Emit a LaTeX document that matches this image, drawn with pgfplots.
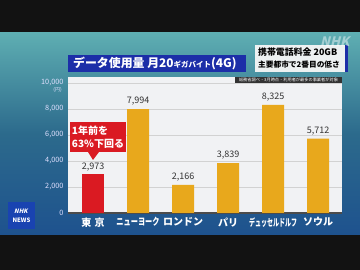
\documentclass[border=0pt]{standalone}
\usepackage{fontspec}
\setmainfont{Noto Sans CJK JP}
\usepackage{graphicx}
\usepackage{pgfplots}
\pgfplotsset{compat=1.18}
\definecolor{barO}{HTML}{E8A81C}
\definecolor{barR}{HTML}{DA1A22}
\definecolor{nhkblue}{HTML}{1C2EA8}
\definecolor{bgtop}{HTML}{5EAEB2}
\definecolor{bgmid}{HTML}{2C6A8C}
\definecolor{bgbot}{HTML}{1E528E}
\definecolor{panel}{HTML}{F1F2F4}
\begin{document}
\begin{tikzpicture}[x=1pt,y=1pt]
\useasboundingbox (0,0) rectangle (360,270);
\fill[black!93] (0,0) rectangle (360,270);
\shade[top color=bgtop, bottom color=bgbot, middle color=bgmid] (0,35) rectangle (360,237);
\begin{axis}[
  at={(68pt,57pt)}, anchor=south west,
  width=274pt, height=136pt, scale only axis,
  xmin=-0.556, xmax=5.533, ymin=0, ymax=10460,
  ytick={0,2000,...,10000},
  scaled y ticks=false,
  xtick={0,...,5},
  xticklabels={\textbf{東\,\,京},\scalebox{0.72}[1]{\textbf{ニューヨーク}},\textbf{ロンドン},\textbf{パリ},\scalebox{0.6}[1]{\textbf{デュッセルドルフ}},\textbf{ソウル}},
  x tick label style={text=white, font=\fontsize{10}{10}\selectfont, yshift=-1pt},
  y tick label style={text=white!88!blue, font=\fontsize{7.3}{7.3}\selectfont, xshift=-1pt},
  /pgf/number format/1000 sep={,},
  /pgf/number format/assume math mode=true,
  major tick length=0pt,
  ymajorgrids, grid style={gray!35, line width=0.5pt},
  axis line style={draw=none},
  axis background/.style={fill=panel},
  extra y ticks={0}, extra y tick labels={},
  extra y tick style={grid style={black!70, line width=1.1pt}},
  ybar, bar width=22pt,
  nodes near coords,
  every node near coord/.append style={font=\fontsize{9}{9}\selectfont, text=black!80, yshift=0pt},
]
\addplot[fill=barR, draw=none, bar shift=0pt] coordinates {(0,2973)};
\addplot[fill=barO, draw=none, bar shift=0pt] coordinates {(1,7994) (2,2166) (3,3839) (4,8325) (5,5712)};
\end{axis}
% yen unit
\node[anchor=east, text=white!88!blue, font=\fontsize{5}{5}\selectfont, inner sep=0pt] at (62,180) {(円)};
% note bar
\fill[black!80] (235,187) rectangle (342,193);
\node[text=white, font=\fontsize{4.2}{4.2}\selectfont, inner sep=0pt] at (288.5,190) {総務省調べ・3月時点・利用者が最多の事業者が対象};
% title box
\fill[nhkblue] (68,198) rectangle (246,215);
\node[anchor=west, text=white, inner sep=0pt, font=\bfseries\fontsize{11.9}{12}\selectfont] at (73,206.5) {データ使用量 月20{\fontsize{7.5}{7.5}\selectfont ギガバイト}(4G)};
% right box
\fill[white!93!gray, opacity=0.95] (255,198) rectangle (345,225);
\fill[nhkblue] (345,198) rectangle (348,225);
\node[anchor=west, text=black, inner sep=0pt, font=\bfseries\fontsize{8.9}{8.9}\selectfont] at (258,218) {携帯電話料金 20GB};
\node[anchor=west, text=black, inner sep=0pt, font=\bfseries\fontsize{7.7}{7.7}\selectfont] at (258,205) {主要都市で2番目の低さ};
% NHK watermark
\node[text=white, opacity=0.45, font=\bfseries\fontsize{13}{13}\selectfont, xslant=0.25, inner sep=0pt] at (336,228) {NHK};
% callout
\fill[barR] (70,118) rectangle (126,148);
\fill[barR] (88,118) -- (99,118) -- (93,110) -- cycle;
\node[text=white, align=left, inner sep=0pt, font=\bfseries\fontsize{10}{13}\selectfont] at (98,133) {1年前を\\63\%下回る};
% NHK NEWS logo
\fill[nhkblue!90!cyan] (8,41) rectangle (35,68);
\node[text=white, font=\bfseries\fontsize{6}{6}\selectfont, xslant=0.25, inner sep=0pt] at (21.5,59) {NHK};
\node[text=white, font=\bfseries\fontsize{6}{6}\selectfont, inner sep=0pt] at (21.5,50) {NEWS};
\end{tikzpicture}
\end{document}
